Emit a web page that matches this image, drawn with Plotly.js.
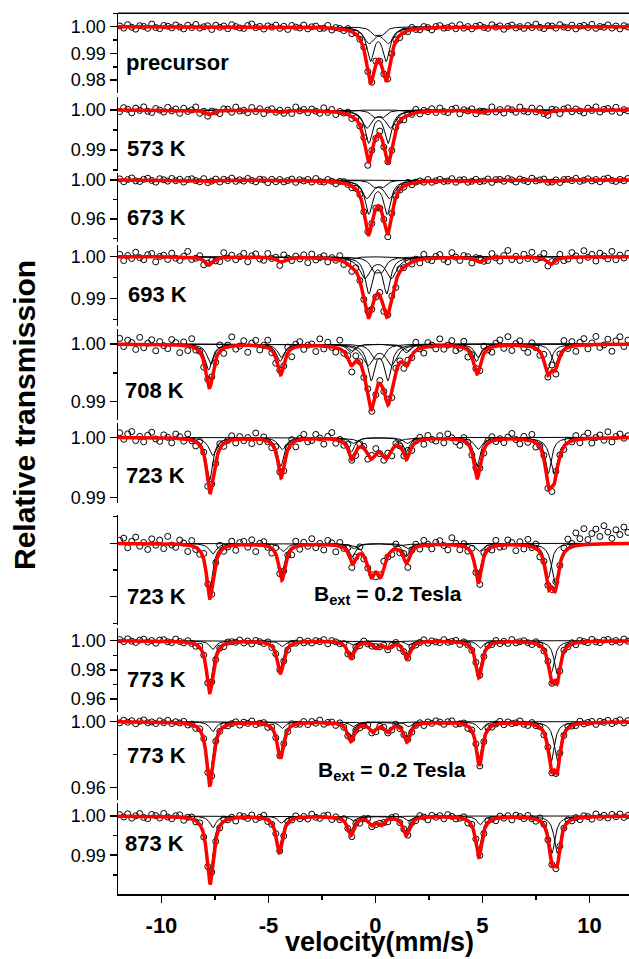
<!DOCTYPE html>
<html>
<head>
<meta charset="utf-8">
<script src="https://cdn.plot.ly/plotly-3.0.1.min.js"></script>
<style>
  html, body { margin: 0; padding: 0; background: #fff; }
  #chart { width: 629px; height: 959px; }
</style>
</head>
<body>
<div id="chart"></div>
<script>
// ---- Velocity channels (mm/s): linear drive calibration ----
const channelStart = -11.95, channelStep = 0.187, channelCount = 128;

// ---- Sample labels, top to bottom ----
const panelLabels = ['precursor', '573 K', '673 K', '693 K', '708 K', '723 K', '723 K', '773 K', '773 K', '873 K'];
const fieldLabel = 'B<sub>ext</sub> = 0.2 Tesla';
const fieldPanels = [6, 8];
const velocityTicks = [-10, -5, 0, 5, 10];
const velocityTickText = ['-10', '-5', '0', '5', '10'];

// ---- Fitted sub-spectra: [line positions (mm/s), line depths, Lorentzian FWHM (mm/s)] ----
const sitesPrecursor = [
  [[-0.23, 0.50], [0.0122, 0.0122], 0.40],
  [[-0.30, 0.60], [0.0058, 0.0058], 0.60],
  [[-0.05, 0.30], [0.0027, 0.0027], 0.40]
];
const sites573 = [
  [[-0.31, 0.59], [0.0080, 0.0080], 0.40],
  [[-0.40, 0.70], [0.0043, 0.0043], 0.55],
  [[-0.05, 0.35], [0.0016, 0.0016], 0.40],
  [[-7.78, -4.45, -1.15, 1.45, 4.90, 7.95], [0.0012, 0.0006, 0.0003, 0.0003, 0.0006, 0.0009], 0.40]
];
const sites673 = [
  [[-0.31, 0.55], [0.0337, 0.0337], 0.40],
  [[-0.40, 0.66], [0.0180, 0.0180], 0.55],
  [[-0.05, 0.35], [0.0067, 0.0067], 0.40],
  [[-7.80, -4.50, -1.15, 1.45, 4.55, 8.25], [0.0018, 0.0012, 0.0005, 0.0005, 0.0012, 0.0018], 0.45]
];
const sites693 = [
  [[-0.31, 0.53], [0.0085, 0.0085], 0.40],
  [[-0.50, 0.75], [0.0050, 0.0050], 0.60],
  [[-0.05, 0.30], [0.0030, 0.0030], 0.45],
  [[-7.78, -4.40, -1.15, 1.45, 4.88, 8.20], [0.0020, 0.0012, 0.0006, 0.0006, 0.0012, 0.0018], 0.45]
];
const sites708 = [
  [[-7.80, -4.45, -1.15, 1.45, 4.72, 8.05], [0.0045, 0.0030, 0.0015, 0.0015, 0.0030, 0.0045], 0.40],
  [[-7.70, -4.40, -1.10, 1.50, 4.80, 8.40], [0.0035, 0.0023, 0.0012, 0.0012, 0.0023, 0.0035], 0.40],
  [[-0.20, 0.58], [0.0060, 0.0060], 0.40],
  [[-0.35, 0.75], [0.0035, 0.0035], 0.60],
  [[-0.05, 0.30], [0.0020, 0.0020], 0.45]
];
const sites723 = [
  [[-7.75, -4.42, -1.12, 1.44, 4.75, 8.08], [0.0072, 0.0048, 0.0024, 0.0024, 0.0048, 0.0060], 0.35],
  [[-7.60, -4.35, -1.05, 1.50, 4.80, 8.35], [0.0030, 0.0020, 0.0010, 0.0010, 0.0020, 0.0060], 0.45],
  [[-0.20, 0.50], [0.0030, 0.0030], 0.55]
];
const sites723B = [
  [[-7.75, -4.38, -1.08, 1.44, 4.80, 8.08], [0.0090, 0.0055, 0.0025, 0.0025, 0.0060, 0.0065], 0.35],
  [[-7.60, -4.30, -1.00, 1.50, 4.85, 8.40], [0.0020, 0.0015, 0.0010, 0.0010, 0.0015, 0.0075], 0.40],
  [[-0.20, 0.25], [0.0052, 0.0052], 0.45]
];
const sites773 = [
  [[-7.75, -4.45, -1.17, 1.45, 4.82, 8.22], [0.0320, 0.0190, 0.0095, 0.0095, 0.0210, 0.0220], 0.35],
  [[-7.60, -4.35, -1.05, 1.55, 4.90, 8.50], [0.0060, 0.0040, 0.0030, 0.0030, 0.0050, 0.0230], 0.35],
  [[0.02, 0.58], [0.0042, 0.0042], 0.40]
];
const sites773B = [
  [[-7.75, -4.45, -1.17, 1.45, 4.85, 8.22], [0.0350, 0.0190, 0.0095, 0.0095, 0.0220, 0.0240], 0.35],
  [[-7.60, -4.35, -1.05, 1.55, 4.92, 8.50], [0.0060, 0.0040, 0.0030, 0.0030, 0.0050, 0.0240], 0.35],
  [[-0.12, 0.58], [0.0055, 0.0055], 0.40]
];
const sites873 = [
  [[-7.74, -4.50, -1.17, 1.42, 4.82, 8.25], [0.0155, 0.0078, 0.0040, 0.0040, 0.0085, 0.0095], 0.35],
  [[-7.60, -4.40, -1.05, 1.55, 4.90, 8.50], [0.0030, 0.0018, 0.0012, 0.0012, 0.0022, 0.0095], 0.35],
  [[-0.17, 0.27], [0.0020, 0.0020], 0.35]
];

// ---- Measured counts minus fit, per channel (units of 1e-4 relative transmission) ----
const residPrecursor = [
  3,-5,8,-2,-9,4,1,-6,10,-3,-7,5,2,-4,7,-1, -8,6,-3,9,-5,0,4,-10,6,-2,3,-7,8,1,-4,-6,
  5,11,-3,2,-8,4,-1,7,-5,3,-9,6,0,-3,8,-6, 2,5,-4,-2,9,-7,3,1,-5,6,-8,4,-2,7,-3,-6,
  10,-1,4,-7,2,5,-9,3,-4,8,-2,-5,6,1,-8,4, 7,-3,-1,5,-6,9,-4,2,-7,3,6,-2,-5,8,-1,4,
  -9,2,7,-4,1,-6,5,-3,10,-2,-7,4,3,-5,8,-1, -4,6,-8,2,5,-3,9,-6,1,-2,7,-5,3,-8,4,-1
];
const resid573 = [
  -4,6,2,-7,5,-1,8,-3,-6,4,0,-5,7,-2,3,-8, 5,-3,1,9,-6,2,-4,6,-1,-7,4,3,-5,8,-2,0,
  -6,7,-3,4,-8,1,5,-2,6,-4,2,-7,9,-1,3,-5, 4,-1,-6,8,-3,5,-7,2,0,6,-5,3,-2,7,-8,1,
  -3,9,-4,2,-6,5,1,-7,4,-2,8,-5,3,-1,6,-4, 7,-2,-5,3,6,-8,2,-1,5,-6,4,1,-3,9,-4,2,
  -7,4,1,-5,8,-2,-4,6,-3,7,-1,-6,5,2,-8,3, 6,-4,3,-2,-7,5,-1,8,-5,2,4,-3,7,-6,1,-2
];
const resid673 = [
  12,-18,5,22,-9,-15,8,19,-4,-21,14,3,-11,17,-6,9, -20,7,15,-3,-13,24,-8,2,16,-17,10,-5,21,-12,4,-9,
  18,-2,-16,11,6,-23,13,-7,20,-10,1,15,-19,8,-4,12, -14,23,-6,-11,17,2,-20,9,14,-3,-18,6,11,-8,19,-15,
  5,-12,16,-21,8,13,-5,-9,22,-16,3,10,-7,18,-13,1, 15,-8,-4,20,-17,6,11,-14,2,19,-10,-6,14,-22,7,9,
  -11,17,3,-19,12,-2,-15,21,-7,4,16,-12,-3,13,-20,8, 10,-5,18,-13,-1,14,-9,6,-17,11,20,-4,-14,7,-8,16
];
const resid693 = [
  6,-9,3,-4,11,-2,-7,5,8,-12,1,4,-6,9,-3,-8, 2,14,-5,-1,7,-10,4,6,-3,-8,12,-2,5,-6,1,9,
  -11,3,8,-4,-7,10,-1,5,-9,15,2,-6,4,-3,7,-12, 9,-5,1,6,-8,3,-2,11,-7,4,-10,8,0,-4,13,-6,
  -3,7,-9,2,5,-14,6,-1,9,-5,3,-8,11,-2,-6,4, 8,-4,-10,12,1,-7,5,3,-11,6,9,-3,-5,10,-1,-9,
  4,16,-6,2,-8,7,-3,12,-5,1,14,-9,6,-2,10,-7, -4,11,3,-8,15,-1,6,-10,9,2,-5,13,-7,4,-3,8
];
const resid708 = [
  10,-4,7,3,-9,12,-6,2,8,-11,5,-2,-7,9,4,-13, 6,-8,14,-3,1,-10,7,5,-5,11,-9,3,16,-6,-1,8,
  -12,4,9,-7,2,13,-4,-9,6,-2,10,-14,5,8,-6,1, 3,-10,12,-5,7,-1,-8,15,-3,4,-11,9,2,-6,11,-4,
  -7,5,-2,10,-13,6,3,-9,8,-4,14,-1,-10,7,2,-5, 12,-6,1,9,-8,-3,11,-12,4,6,-7,13,-2,-9,5,10,
  -5,15,-9,3,8,-4,-11,7,1,-6,12,-3,9,-8,4,16, -2,8,-10,5,11,-7,3,14,-5,-1,9,-12,6,13,-4,7
];
const resid723 = [
  8,-3,6,10,-5,2,-7,4,9,-2,-6,5,1,-8,7,3, -4,9,-1,-7,6,3,-9,5,-2,8,-5,1,7,-6,4,-3,
  2,-8,10,-4,5,-1,-6,9,3,-7,4,6,-10,2,8,-5, -3,7,1,-9,4,11,-6,2,-4,8,-1,-7,5,3,-8,6,
  9,-2,-5,7,-10,4,1,-3,12,-6,2,5,-8,6,-1,-4, 5,-7,8,2,-4,-9,6,3,-5,10,-2,-6,4,7,-3,1,
  -6,3,9,-1,-8,5,-4,11,-7,2,6,-3,-9,8,1,-5, 4,-2,7,-6,3,9,-8,1,5,-4,10,-7,2,6,-1,3
];
const resid723B = [
  6,10,-8,4,12,-5,2,-11,9,-3,7,-9,14,-2,-6,8, 3,-12,10,-4,-7,11,5,-9,2,13,-6,-1,8,-10,4,6,
  -5,9,-13,3,7,-2,-9,12,-4,6,1,-11,10,-7,5,-3, 11,-6,2,-10,8,4,-12,7,-1,9,-8,3,13,-5,-2,6,
  -9,5,12,-3,-7,10,-4,8,-11,2,6,-6,9,1,-8,4, 7,-2,-10,13,3,-8,5,-5,11,-1,-12,8,2,-6,10,-4,
  -3,9,4,-11,6,-7,12,-2,8,-9,3,5,-5,14,-1,10, 18,6,24,12,30,9,20,28,14,34,22,10,26,17,31,21
];
const resid773 = [
  9,-6,14,-2,-11,5,12,-8,3,-15,7,10,-4,-9,16,1, -7,11,-3,-13,8,4,-10,15,-5,2,-12,9,6,-1,13,-8,
  5,-14,10,3,-6,12,-9,1,17,-4,-11,7,-2,14,-7,4, -10,6,-1,13,-15,8,2,-5,11,-12,4,9,-8,16,-3,-6,
  12,-4,7,-9,3,14,-13,6,-2,10,-7,1,15,-10,5,-3, -8,13,-5,2,11,-14,9,-1,-6,12,3,-10,7,-4,16,-9,
  4,-11,15,-7,1,9,-3,-12,13,5,-8,11,-2,6,-14,10, -5,8,-13,12,2,-7,14,-4,-10,7,11,-6,3,-9,13,-2
];
const resid773B = [
  -6,10,-2,7,-11,4,13,-5,1,-9,8,-3,12,-7,5,-1, 11,-8,3,-13,6,9,-4,-10,14,-2,7,-6,2,10,-12,5,
  -3,12,-9,1,8,-14,5,-6,11,3,-8,13,-1,-5,9,-11, 7,-4,15,-10,2,6,-12,9,-3,-7,12,4,-9,1,14,-6,
  -12,5,8,-2,-9,13,-5,3,10,-11,1,7,-14,6,-4,11, 3,-10,6,12,-7,-1,9,-13,4,8,-5,-3,11,-8,2,14,
  -9,7,-4,1,13,-6,-11,10,-2,5,-13,9,3,-7,12,-4, 10,-3,-8,14,-5,2,7,-12,6,-1,11,-9,4,13,-6,8
];
const resid873 = [
  4,-2,6,-5,1,7,-3,-6,5,2,-4,8,-1,-5,3,6, -7,2,5,-3,4,-6,1,7,-2,-4,6,-1,3,-8,5,2,
  -3,6,-5,1,8,-4,-2,5,3,-7,4,-1,6,-3,2,-5, 7,-1,-4,3,5,-6,2,-3,6,1,-5,4,-7,3,8,-2,
  -4,5,1,-6,3,7,-2,4,-5,2,-3,6,1,-7,4,-1, 3,-5,6,2,-4,-1,5,-6,3,7,-2,-4,5,1,-6,4,
  -2,4,-7,5,2,-3,6,-1,-5,8,3,-4,2,-6,5,1, 6,-3,2,-5,4,1,-6,7,-2,3,-4,5,-1,6,-3,2
];

const panelSites = [sitesPrecursor, sites573, sites673, sites693, sites708, sites723, sites723B, sites773, sites773B, sites873];
const panelResid = [residPrecursor, resid573, resid673, resid693, resid708, resid723, resid723B, resid773, resid773B, resid873];

// ---- Page geometry (pixels) ----
const W = 629, H = 959;
const plotLeft = 118, plotBottom = 894;
const xRange = [-12.03, 11.85];
const panelTopPx    = [13.3, 96.7, 173, 244.5, 329, 423, 515, 628, 715, 803];
const panelBottomPx = [93.3, 171, 241.7, 326, 420, 503, 625, 712, 800, 894];
const unityPx       = [26.7, 110, 180, 256.7, 344, 437.3, 543.3, 640.7, 721.7, 816];
const pxPerHundredth = [26.7, 40, 9.75, 41.7, 57.7, 60, 53.3, 14.6, 16.5, 39.2];
const majorStep     = [0.01, 0.01, 0.04, 0.01, 0.01, 0.01, 0.01, 0.02, 0.04, 0.01];
const labelPos = [[124, 63], [125, 148.3], [125, 217.5], [126, 294.2], [123, 390.5],
                  [124.3, 475], [125, 596.5], [125, 679.2], [125, 755.5], [123.3, 843.5]];
const fieldLabelPos = [[312, 595], [316, 771]];

const FONT = 'Liberation Sans, Arial, Helvetica, sans-serif';
const px2x = p => (p - plotLeft) / (W - plotLeft);
const px2y = p => (plotBottom - p) / plotBottom;

function absorption(site, v) {
  const [pos, depth, fwhm] = site;
  const hw2 = (fwhm / 2) * (fwhm / 2);
  let s = 0;
  for (let k = 0; k < pos.length; k++) {
    const d = v - pos[k];
    s += depth[k] * hw2 / (d * d + hw2);
  }
  return s;
}

const velocity = [];
for (let i = 0; i < channelCount; i++) velocity.push(channelStart + i * channelStep);
const fine = [];
for (let v = xRange[0]; v <= xRange[1] + 1e-9; v += 0.02) fine.push(v);

const traces = [];
const layout = {
  width: W, height: H,
  margin: {l: plotLeft, r: 0, t: 0, b: H - plotBottom},
  paper_bgcolor: '#fff', plot_bgcolor: 'rgba(0,0,0,0)',
  showlegend: false,
  font: {family: FONT, color: '#000'},
  xaxis: {
    range: xRange, anchor: 'y10', showgrid: false, zeroline: false,
    showline: true, linecolor: '#000', linewidth: 1.5,
    ticks: 'outside', ticklen: 7, tickwidth: 1.5, tickcolor: '#000',
    tickmode: 'array', tickvals: velocityTicks, ticktext: velocityTickText,
    ticklabelstandoff: 4,
    minor: {ticks: 'outside', ticklen: 4, tickwidth: 1.5, tickcolor: '#000', dtick: 2.5, tick0: 0},
    tickfont: {family: FONT, size: 22, weight: 'bold', color: '#000'}
  },
  annotations: [],
  shapes: []
};

for (let p = 0; p < 10; p++) {
  const yName = p === 0 ? 'y' : 'y' + (p + 1);
  const axName = p === 0 ? 'yaxis' : 'yaxis' + (p + 1);
  const sites = panelSites[p];
  const resid = panelResid[p];

  // measured points
  const obs = velocity.map((v, i) => {
    let a = 0;
    for (const s of sites) a += absorption(s, v);
    return 1 - a + resid[i] * 1e-4;
  });
  traces.push({
    x: velocity, y: obs, xaxis: 'x', yaxis: yName, type: 'scatter', mode: 'markers',
    marker: {symbol: 'circle-open', size: 6, color: '#000', line: {width: 1, color: '#000'}},
    hoverinfo: 'skip'
  });
  // sub-spectra
  for (const s of sites) {
    traces.push({
      x: fine, y: fine.map(v => 1 - absorption(s, v)), xaxis: 'x', yaxis: yName,
      type: 'scatter', mode: 'lines', line: {color: '#000', width: 1}, hoverinfo: 'skip'
    });
  }
  // total fit
  traces.push({
    x: fine, y: fine.map(v => { let a = 0; for (const s of sites) a += absorption(s, v); return 1 - a; }),
    xaxis: 'x', yaxis: yName, type: 'scatter', mode: 'lines',
    line: {color: '#ff0000', width: 3.5}, hoverinfo: 'skip'
  });

  const top = 1 + (unityPx[p] - panelTopPx[p]) / pxPerHundredth[p] * 0.01;
  const bot = 1 - (panelBottomPx[p] - unityPx[p]) / pxPerHundredth[p] * 0.01;
  layout[axName] = {
    domain: [px2y(panelBottomPx[p]), px2y(panelTopPx[p])],
    range: [bot, top], anchor: 'x',
    showgrid: false, zeroline: false,
    showline: true, linecolor: '#000', linewidth: 1.5,
    ticks: 'outside', ticklen: 7, tickwidth: 1.5, tickcolor: '#000',
    tick0: 1, dtick: majorStep[p], tickformat: '.2f',
    showticklabels: p !== 6,
    minor: {ticks: 'outside', ticklen: 4, tickwidth: 1.5, tickcolor: '#000', dtick: majorStep[p] / 2},
    tickfont: {family: FONT, size: 18, color: '#000'}
  };

  layout.annotations.push({
    xref: 'paper', yref: 'paper', x: px2x(labelPos[p][0]), y: px2y(labelPos[p][1]),
    xanchor: 'left', yanchor: 'middle', showarrow: false,
    text: panelLabels[p], font: {family: FONT, size: 22, weight: 'bold', color: '#000'}
  });
}

fieldPanels.forEach((p, k) => {
  layout.annotations.push({
    xref: 'paper', yref: 'paper', x: px2x(fieldLabelPos[k][0]), y: px2y(fieldLabelPos[k][1]),
    xanchor: 'left', yanchor: 'middle', showarrow: false,
    text: fieldLabel, font: {family: FONT, size: 21, weight: 'bold', color: '#000'}
  });
});

// axis titles
layout.annotations.push({
  xref: 'paper', yref: 'paper', x: px2x(24), y: px2y(415), xanchor: 'center', yanchor: 'middle',
  textangle: -90, showarrow: false, text: 'Relative transmission',
  font: {family: FONT, size: 30, weight: 'bold', color: '#000'}
});
layout.annotations.push({
  xref: 'paper', yref: 'paper', x: px2x(379.5), y: px2y(942), xanchor: 'center', yanchor: 'middle',
  showarrow: false, text: 'velocity(mm/s)',
  font: {family: FONT, size: 27, weight: 'bold', color: '#000'}
});

// frame line along the top of the first spectrum
layout.shapes.push({
  type: 'line', xref: 'paper', yref: 'paper', x0: 0, x1: 1,
  y0: px2y(panelTopPx[0]), y1: px2y(panelTopPx[0]), line: {color: '#000', width: 1.5}
});

Plotly.newPlot('chart', traces, layout, {staticPlot: true, displayModeBar: false});
</script>
</body>
</html>
